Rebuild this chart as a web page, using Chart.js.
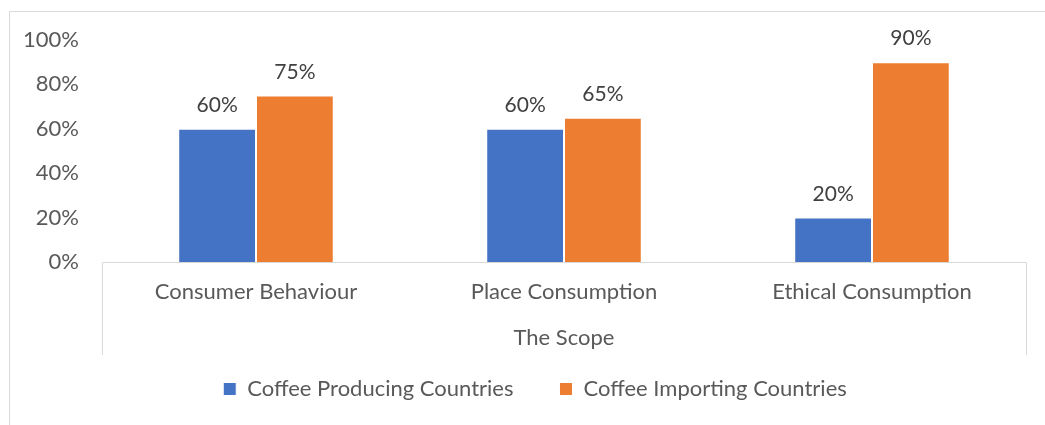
<!DOCTYPE html>
<html>
<head>
<meta charset="utf-8">
<script src="https://cdn.jsdelivr.net/npm/chart.js@4"></script>
<style>
  html, body { margin: 0; padding: 0; background: #fff; }
  #wrap { width: 1045px; height: 425px; }
</style>
</head>
<body>
<div id="wrap"><canvas id="myChart" width="1045" height="425"></canvas></div>
<script>
// data
const categories = ['Consumer Behaviour', 'Place Consumption', 'Ethical Consumption'];
const seriesNames = ['Coffee Producing Countries', 'Coffee Importing Countries'];
const producing = [60, 60, 20];
const importing = [75, 65, 90];
const yTicks = [0, 20, 40, 60, 80, 100];
const axisTitle = 'The Scope';

const FONT = 'Lato';

// labels on top of bars
const barLabels = {
  id: 'barLabels',
  afterDatasetsDraw(chart) {
    const { ctx } = chart;
    ctx.save();
    ctx.fillStyle = '#404040';
    ctx.font = '21px ' + FONT;
    ctx.textAlign = 'center';
    ctx.textBaseline = 'bottom';
    chart.data.datasets.forEach((ds, i) => {
      chart.getDatasetMeta(i).data.forEach((bar, j) => {
        ctx.fillText(ds.data[j] + '%', bar.x, bar.y - 13);
      });
    });
    ctx.restore();
  }
};

// move the legend a bit: it sits right of centre and close to the axis box
const legendShift = {
  id: 'legendShift',
  afterLayout(chart) {
    const lg = chart.legend;
    lg.left += 22;
    lg.right += 22;
    lg.top -= 23;
    lg.bottom = chart.height;
    lg.height = lg.bottom - lg.top;
  }
};

// outer border + box around the category axis
const frameLines = {
  id: 'frameLines',
  afterDraw(chart) {
    const { ctx, chartArea, scales } = chart;
    const { left, right, bottom } = chartArea;
    const xBottom = scales.x.bottom;
    ctx.save();
    ctx.strokeStyle = '#d9d9d9';
    ctx.lineWidth = 1;
    ctx.beginPath();
    ctx.moveTo(9.5, chart.height);
    ctx.lineTo(9.5, 11.5);
    ctx.lineTo(chart.width, 11.5);
    ctx.stroke();

    ctx.beginPath();
    ctx.moveTo(Math.round(left) + 0.5, xBottom);
    ctx.lineTo(Math.round(left) + 0.5, Math.round(bottom) + 0.5);
    ctx.lineTo(Math.round(right) + 0.5, Math.round(bottom) + 0.5);
    ctx.lineTo(Math.round(right) + 0.5, xBottom);
    ctx.stroke();
    ctx.restore();
  }
};

new Chart(document.getElementById('myChart').getContext('2d'), {
  type: 'bar',
  data: {
    labels: categories,
    datasets: [
      {
        label: seriesNames[0],
        data: producing,
        backgroundColor: '#4472C4',
        borderColor: '#ffffff',
        borderWidth: 1,
        barPercentage: 1,
        categoryPercentage: 0.505
      },
      {
        label: seriesNames[1],
        data: importing,
        backgroundColor: '#ED7D31',
        borderColor: '#ffffff',
        borderWidth: 1,
        barPercentage: 1,
        categoryPercentage: 0.505
      }
    ]
  },
  options: {
    responsive: false,
    animation: false,
    layout: { padding: { top: 40, left: 0, right: 19, bottom: 10 } },
    scales: {
      x: {
        grid: { display: false, drawTicks: false },
        border: { display: false },
        ticks: { color: '#595959', font: { family: FONT, size: 22 }, padding: 17 },
        title: {
          display: true,
          text: axisTitle,
          color: '#595959',
          font: { family: FONT, size: 22 },
          padding: { top: 0, bottom: 4 }
        },
        afterFit(scale) { scale.height = 93; }
      },
      y: {
        min: 0,
        max: 100,
        afterBuildTicks(scale) { scale.ticks = yTicks.map(v => ({ value: v })); },
        grid: { display: false, drawTicks: false },
        border: { display: false },
        ticks: {
          color: '#595959',
          font: { family: FONT, size: 22 },
          padding: 23,
          callback: v => v + '%'
        },
        afterFit(scale) { scale.width = 102; }
      }
    },
    plugins: {
      legend: {
        position: 'bottom',
        maxHeight: 60,
        labels: {
          color: '#595959',
          font: { family: FONT, size: 22 },
          boxWidth: 13,
          boxHeight: 13,
          padding: 46
        }
      },
      tooltip: { enabled: false }
    }
  },
  plugins: [barLabels, legendShift, frameLines]
});
</script>
</body>
</html>
